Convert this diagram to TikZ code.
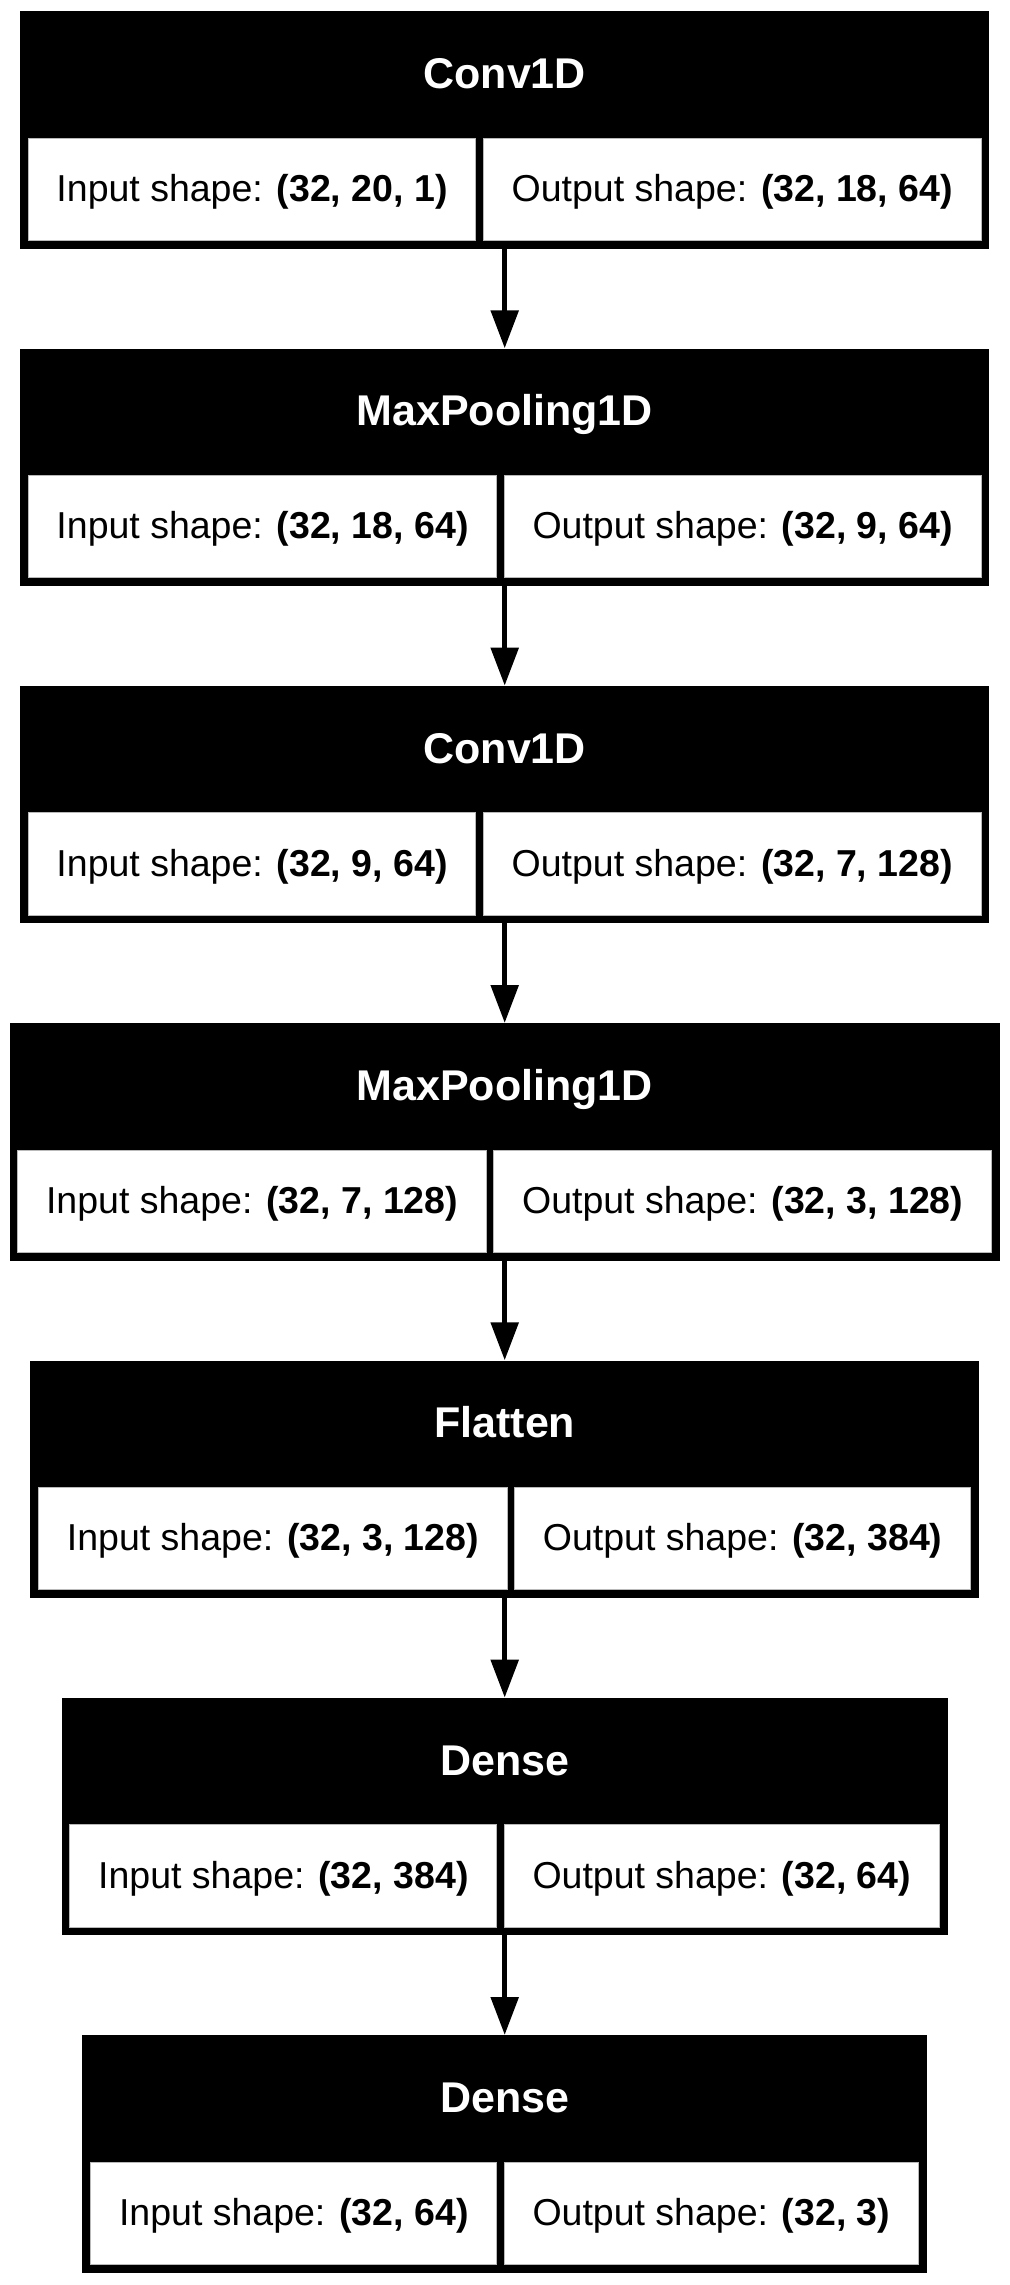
\documentclass[tikz,border=0pt]{standalone}
\usepackage{fontspec}
\setmainfont{Liberation Sans}
\usetikzlibrary{arrows.meta,calc}
\newcommand\cellfont{\fontsize{37.5}{45}\selectfont}
\newcommand\headfont{\fontsize{43}{50}\selectfont\bfseries}
\tikzset{
  layerbox/.style={rectangle, fill=black, draw=none, inner sep=0pt, minimum height=237.3pt},
  cellbox/.style={rectangle, fill=white, draw=gray!55, line width=1pt, inner sep=0pt, minimum height=102.3pt},
  headtext/.style={text=white, font=\headfont, inner sep=0pt},
  celltext/.style={text=black, font=\cellfont, inner sep=0pt},
  conn/.style={line width=5.5pt, -{Triangle[length=38pt,width=27pt]}}
}
% #1 name, #2 top y (px), #3 header, #4 input text, #5 output text,
% #6 width of input text, #7 width of output text (Arial metrics at 37.5px)
\newcommand\kerasLayer[7]{%
  \pgfmathsetmacro\kcL{#6+60}%
  \pgfmathsetmacro\kcR{#7+60}%
  \pgfmathsetmacro\kW{\kcL+\kcR+24}%
  \pgfmathsetmacro\kx{504.5-\kW/2}%
  \node[layerbox, minimum width=\kW pt, anchor=north west] (#1) at (\kx,#2) {};
  \node[headtext, anchor=base] (#1h) at ($(#1.north)+(0,77.5)$) {#3};
  \node[cellbox, minimum width=\kcL pt, anchor=north west] (#1in) at ($(#1.north west)+(8,126.7)$) {};
  \node[cellbox, minimum width=\kcR pt, anchor=north east] (#1out) at ($(#1.north east)+(-8,126.7)$) {};
  \node[celltext, anchor=base] (#1inT) at ($(#1in.north)+(0,63.7)$) {#4};
  \node[celltext, anchor=base] (#1outT) at ($(#1out.north)+(0,63.7)$) {#5};
}
\begin{document}
\begin{tikzpicture}[x=1pt,y=-1pt]
\useasboundingbox (0,0) rectangle (1009,2285);
\kerasLayer{L1}{11}{Conv1D}{Input shape: \textbf{(32, 20, 1)}}{Output shape: \textbf{(32, 18, 64)}}{387.75}{437.775}
\kerasLayer{L2}{348.33}{MaxPooling1D}{Input shape: \textbf{(32, 18, 64)}}{Output shape: \textbf{(32, 9, 64)}}{408.6}{416.925}
\kerasLayer{L3}{685.67}{Conv1D}{Input shape: \textbf{(32, 9, 64)}}{Output shape: \textbf{(32, 7, 128)}}{387.75}{437.775}
\kerasLayer{L4}{1023}{MaxPooling1D}{Input shape: \textbf{(32, 7, 128)}}{Output shape: \textbf{(32, 3, 128)}}{408.6}{437.775}
\kerasLayer{L5}{1360.33}{Flatten}{Input shape: \textbf{(32, 3, 128)}}{Output shape: \textbf{(32, 384)}}{408.6}{396.075}
\kerasLayer{L6}{1697.67}{Dense}{Input shape: \textbf{(32, 384)}}{Output shape: \textbf{(32, 64)}}{366.9}{375.225}
\kerasLayer{L7}{2035}{Dense}{Input shape: \textbf{(32, 64)}}{Output shape: \textbf{(32, 3)}}{346.05}{354.375}
\draw[conn] (L1.south) -- (L2.north);
\draw[conn] (L2.south) -- (L3.north);
\draw[conn] (L3.south) -- (L4.north);
\draw[conn] (L4.south) -- (L5.north);
\draw[conn] (L5.south) -- (L6.north);
\draw[conn] (L6.south) -- (L7.north);
\end{tikzpicture}
\end{document}
